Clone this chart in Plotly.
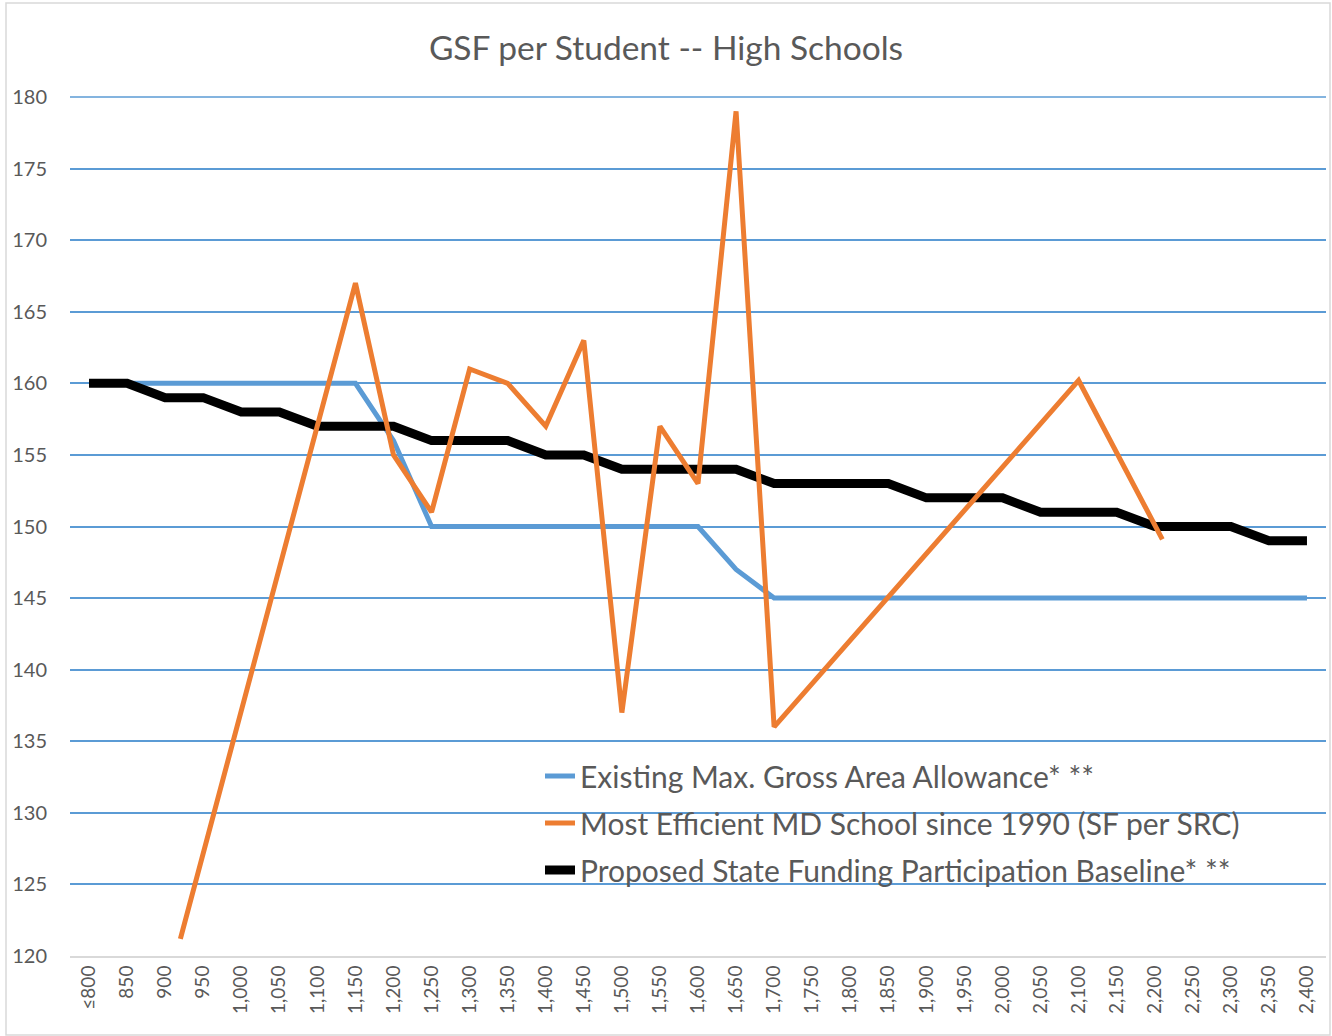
import plotly.graph_objects as go

# Category axis (enrollment)
enrollment = list(range(800, 2401, 50))
tick_labels = ["≤800"] + [f"{v:,}" for v in enrollment[1:]]

# Existing Max. Gross Area Allowance
existing = [160, 160, 160, 160, 160, 160, 160, 160, 156, 150, 150, 150, 150, 150, 150, 150, 150,
            147, 145, 145, 145, 145, 145, 145, 145, 145, 145, 145, 145, 145, 145, 145, 145]

# Proposed State Funding Participation Baseline
proposed = [160, 160, 159, 159, 158, 158, 157, 157, 157, 156, 156, 156, 155, 155, 154, 154, 154,
            154, 153, 153, 153, 153, 152, 152, 152, 151, 151, 151, 150, 150, 150, 149, 149]

# Most Efficient MD School since 1990 (actual enrollments)
eff_x = [920, 1150, 1200, 1250, 1300, 1350, 1400, 1450, 1500, 1550, 1600, 1650, 1700, 2100, 2210]
eff_y = [121.2, 167, 155, 151, 161, 160, 157, 163, 137, 157, 153, 179, 136, 160.2, 149.1]

names = ["Existing Max. Gross Area Allowance* **",
         "Most Efficient MD School since 1990 (SF per SRC)",
         "Proposed State Funding Participation Baseline* **"]

FONT = "Lato"
GRAY = "#595959"

fig = go.Figure()
fig.add_trace(go.Scatter(x=enrollment, y=existing, mode="lines", name=names[0],
                         line=dict(color="#5B9BD5", width=5), legendrank=1, legendgroup="a"))
fig.add_trace(go.Scatter(x=enrollment, y=proposed, mode="lines", name=names[2],
                         line=dict(color="#000000", width=9), legendrank=3, legendgroup="c"))
fig.add_trace(go.Scatter(x=eff_x, y=eff_y, mode="lines", name=names[1],
                         line=dict(color="#ED7D31", width=5), legendrank=2, legendgroup="b"))

L, R, T, B = 70, 6, 97, 80
W, H = 1332, 1036
pw, ph = W - L - R, H - T - B

def px2paper(x, y):
    return (x - L) / pw, (H - B - y) / ph

x0, y0 = px2paper(6, 1035)
x1, y1 = px2paper(1330, 3)
fig.add_shape(type="rect", xref="paper", yref="paper", x0=x0, y0=y0, x1=x1, y1=y1,
              line=dict(color="#D9D9D9", width=1.5), fillcolor="rgba(0,0,0,0)", layer="below")
# top gridline at the range maximum (paper-referenced so it is not clipped)
fig.add_shape(type="line", xref="paper", yref="paper", x0=0, x1=1, y0=1, y1=1,
              line=dict(color="#5B9BD5", width=1.5), layer="below")

lx, ly = px2paper(540, 750)
fig.update_layout(
    width=W, height=H,
    margin=dict(l=L, r=R, t=T, b=B),
    paper_bgcolor="white", plot_bgcolor="white",
    font=dict(family=FONT, color=GRAY),
    title=dict(text="GSF per Student -- High Schools", x=0.5, xref="container", xanchor="center",
               y=1 - 48 / H, yref="container", yanchor="middle",
               font=dict(family=FONT, size=33.5, color=GRAY)),
    showlegend=True,
    legend=dict(x=lx, y=ly, xanchor="left", yanchor="top", bgcolor="rgba(0,0,0,0)",
                font=dict(family=FONT, size=30, color=GRAY), tracegroupgap=5,
                itemwidth=30),
    xaxis=dict(range=[775, 2425], tickvals=enrollment, ticktext=tick_labels, tickangle=-90,
               showgrid=False, zeroline=False, showline=True, linecolor="#D9D9D9", linewidth=2,
               ticks="", tickfont=dict(family=FONT, size=19, color=GRAY)),
    yaxis=dict(range=[120, 180], dtick=5, showgrid=True, gridcolor="#5B9BD5", gridwidth=1.5,
               zeroline=False, showline=False, ticks="", ticklabelstandoff=22,
               tickfont=dict(family=FONT, size=20, color=GRAY)),
)

fig.write_html("out.html", config={"displayModeBar": False},
               post_script="document.body.style.margin='0';document.body.style.overflow='hidden';")
